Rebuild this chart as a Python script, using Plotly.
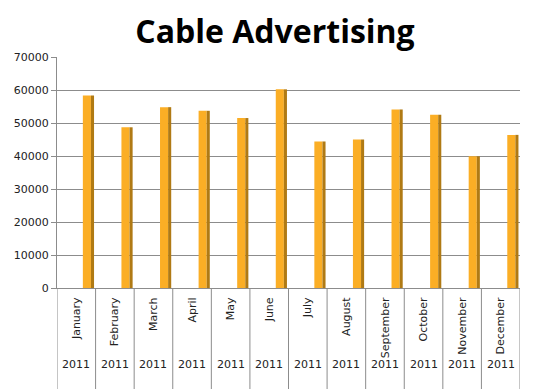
import plotly.graph_objects as go

months = ["January", "February", "March", "April", "May", "June", "July",
          "August", "September", "October", "November", "December"]
years = ["2011"] * 12
values = [58300, 48700, 54800, 53700, 51500, 60200, 44400, 45000, 54100, 52500, 39900, 46400]
y_ticks = [0, 10000, 20000, 30000, 40000, 50000, 60000, 70000]

W, H = 550, 389
ml, mr, mt, mb = 49, 38, 49, 109
ph = H - mt - mb

fig = go.Figure()
# front face of each column
fig.add_trace(go.Bar(x=months, y=values, offset=0.17, width=0.21,
                     marker=dict(color="#FBAE25", line=dict(width=0)),
                     hoverinfo="x+y", showlegend=False))
# shaded side face (3D look)
fig.add_trace(go.Bar(x=months, y=values, offset=0.38, width=0.08,
                     marker=dict(color="#B07A14", line=dict(width=0)),
                     hoverinfo="skip", showlegend=False))

shapes = []
for i in range(len(months) + 1):
    shapes.append(dict(type="line", xref="x", yref="paper",
                       x0=i - 0.5, x1=i - 0.5, y0=0, y1=-101 / ph,
                       line=dict(color="#8c8c8c", width=1)))

annotations = []
for i, yr in enumerate(years):
    annotations.append(dict(x=months[i], xref="x", yref="paper",
                            y=(288 - 373) / ph, text=yr, showarrow=False,
                            font=dict(family="DejaVu Sans", size=11, color="#222")))

fig.update_layout(
    width=W, height=H,
    margin=dict(l=ml, r=mr, t=mt, b=mb, autoexpand=False),
    paper_bgcolor="white", plot_bgcolor="white",
    barmode="overlay",
    title=dict(text="<b>Cable Advertising</b>", x=(275 - 8) / W, xanchor="center",
               y=1 - 24 / H, yanchor="middle",
               font=dict(family="Open Sans", size=32, color="black")),
    xaxis=dict(type="category", range=[-0.5, 11.5], tickangle=-90,
               showgrid=False, showline=True, linecolor="#8c8c8c",
               ticks="", automargin=False, ticklabelstandoff=4,
               tickfont=dict(family="DejaVu Sans", size=11, color="#222")),
    yaxis=dict(range=[0, 70000], tickvals=y_ticks,
               ticktext=[str(v) for v in y_ticks],
               showgrid=True, gridcolor="#8c8c8c", gridwidth=1,
               showline=True, linecolor="#8c8c8c", ticks="outside",
               ticklen=5, tickcolor="#8c8c8c", automargin=False,
               zeroline=False,
               tickfont=dict(family="DejaVu Sans", size=11, color="#222")),
    shapes=shapes, annotations=annotations,
)

fig.write_html("out.html")
